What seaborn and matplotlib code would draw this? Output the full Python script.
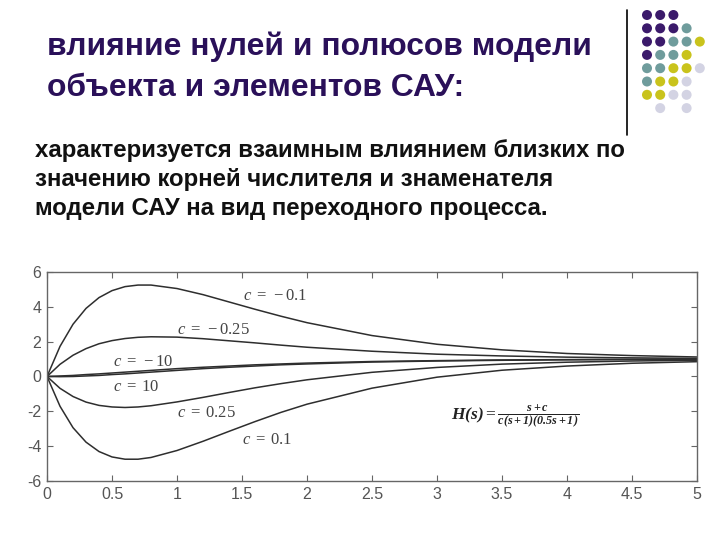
import pandas as pd
import seaborn as sns
import matplotlib.pyplot as plt
from matplotlib.lines import Line2D

# --- данные ---
t = [0, 0.1, 0.2, 0.3, 0.4, 0.5, 0.6, 0.7, 0.8, 1.0, 1.2, 1.4, 1.6, 1.8, 2.0,
     2.5, 3.0, 3.5, 4.0, 4.5, 5.0]

y_m01 = [0, 1.73, 3.00, 3.91, 4.53, 4.93, 5.16, 5.25, 5.25, 5.05, 4.70, 4.28,
         3.86, 3.46, 3.09, 2.35, 1.85, 1.53, 1.32, 1.20, 1.12]
y_m025 = [0, 0.70, 1.22, 1.60, 1.88, 2.06, 2.18, 2.25, 2.28, 2.26, 2.17, 2.05,
          1.93, 1.80, 1.68, 1.45, 1.28, 1.18, 1.11, 1.07, 1.04]
y_m10 = [0, 0.03, 0.06, 0.11, 0.15, 0.20, 0.25, 0.30, 0.35, 0.45, 0.53, 0.60,
         0.67, 0.72, 0.77, 0.86, 0.91, 0.95, 0.97, 0.98, 0.99]
y_p10 = [0, -0.01, 0.00, 0.03, 0.06, 0.11, 0.15, 0.20, 0.25, 0.35, 0.45, 0.53,
         0.60, 0.67, 0.72, 0.83, 0.89, 0.93, 0.96, 0.98, 0.99]
y_p025 = [0, -0.68, -1.15, -1.47, -1.66, -1.75, -1.78, -1.75, -1.68, -1.46,
          -1.20, -0.92, -0.65, -0.41, -0.19, 0.24, 0.52, 0.71, 0.82, 0.89, 0.93]
y_p01 = [0, -1.71, -2.94, -3.77, -4.31, -4.62, -4.75, -4.75, -4.65, -4.25,
         -3.72, -3.15, -2.59, -2.06, -1.59, -0.67, -0.04, 0.36, 0.60, 0.76, 0.85]

curve_names = ['c=-0.1', 'c=-0.25', 'c=-10', 'c=10', 'c=0.25', 'c=0.1']
curve_values = [y_m01, y_m025, y_m10, y_p10, y_p025, y_p01]

label_texts = [r'$c\;=\;-0.1$', r'$c\;=\;-0.25$', r'$c\;=\;-10$', r'$c\;=\;10$',
               r'$c\;=\;0.25$', r'$c\;=\;0.1$']
label_x = [1.51, 1.0, 0.51, 0.51, 1.0, 1.5]
label_y = [4.67, 2.67, 0.86, -0.57, -2.07, -3.62]

x_ticks = [0, 0.5, 1, 1.5, 2, 2.5, 3, 3.5, 4, 4.5, 5]
y_ticks = [-6, -4, -2, 0, 2, 4, 6]

title_lines = ['влияние нулей и полюсов модели', 'объекта и элементов САУ:']
body_lines = ['характеризуется взаимным влиянием близких по',
              'значению корней числителя и знаменателя',
              'модели САУ на вид переходного процесса.']

# узор из точек в правом верхнем углу
dot_rows = ['PPP..', 'PPPT.', 'PPTTY', 'PTTY.', 'TTYYL', 'TYYL.', 'YYLL.', '.L.L.']
dot_colors = {'P': '#3b1a6b', 'T': '#6f9c9c', 'Y': '#c9c31c', 'L': '#d3d3e3'}

# -------------------------------------------------------------------
df = pd.DataFrame({
    't': t * len(curve_names),
    'y': sum(curve_values, []),
    'curve': [n for n in curve_names for _ in t],
})

sns.set_theme(style='white')
plt.rcParams['font.family'] = ['Liberation Sans', 'DejaVu Sans']
plt.rcParams['axes.unicode_minus'] = False
plt.rcParams['mathtext.fontset'] = 'custom'
plt.rcParams['mathtext.rm'] = 'Liberation Serif'
plt.rcParams['mathtext.it'] = 'Liberation Serif:italic'
plt.rcParams['mathtext.bf'] = 'Liberation Serif:bold:italic'

fig = plt.figure(figsize=(7.2, 5.4), dpi=100)
ax = fig.add_axes([0.0653, 0.1093, 0.9028, 0.387])

sns.lineplot(data=df, x='t', y='y', units='curve', estimator=None,
             color='#2e2e2e', linewidth=1.1, ax=ax, legend=False)

for txt, lx, ly in zip(label_texts, label_x, label_y):
    ax.text(lx, ly, txt, fontsize=12, color='#444444', ha='left', va='center')

ax.text(3.6, -2.3, r'$\mathbf{H(s)} = \frac{\mathbf{s+c}}{\mathbf{c(s+1)(0.5s+1)}}$',
        fontsize=12.5, color='#222222', ha='center', va='center')

ax.set_xlim(0, 5)
ax.set_ylim(-6, 6)
ax.set_xticks(x_ticks)
ax.set_xticklabels(['0', '0.5', '1', '1.5', '2', '2.5', '3', '3.5', '4', '4.5', '5'])
ax.set_yticks(y_ticks)
ax.set_xlabel('')
ax.set_ylabel('')
ax.tick_params(direction='in', length=4, width=0.8, colors='#666666',
               labelcolor='#555555', labelsize=11.5, top=True, right=True,
               bottom=True, left=True, pad=4)
for sp in ax.spines.values():
    sp.set_color('#666666')
    sp.set_linewidth(1.0)

# заголовок и текст
for i, line in enumerate(title_lines):
    fig.text(47 / 720, 1 - (47 + 41 * i) / 540, line, fontsize=22.9,
             fontweight='bold', color='#2a1059', va='center', ha='left')
for i, line in enumerate(body_lines):
    fig.text(35 / 720, 1 - (150 + 29.5 * i) / 540, line, fontsize=17.3,
             fontweight='bold', color='#111111', va='center', ha='left')

# декоративные точки и вертикальная линия
deco = fig.add_axes([0, 0, 1, 1])
deco.set_xlim(0, 720)
deco.set_ylim(540, 0)
deco.axis('off')
for r, row in enumerate(dot_rows):
    for c, ch in enumerate(row):
        if ch in dot_colors:
            deco.scatter(647 + 13.2 * c, 15 + 13.3 * r, s=52,
                         color=dot_colors[ch], edgecolors='none')
deco.add_line(Line2D([627, 627], [10, 135], color='black', linewidth=1.2))

fig.savefig('out.png', dpi=100)
